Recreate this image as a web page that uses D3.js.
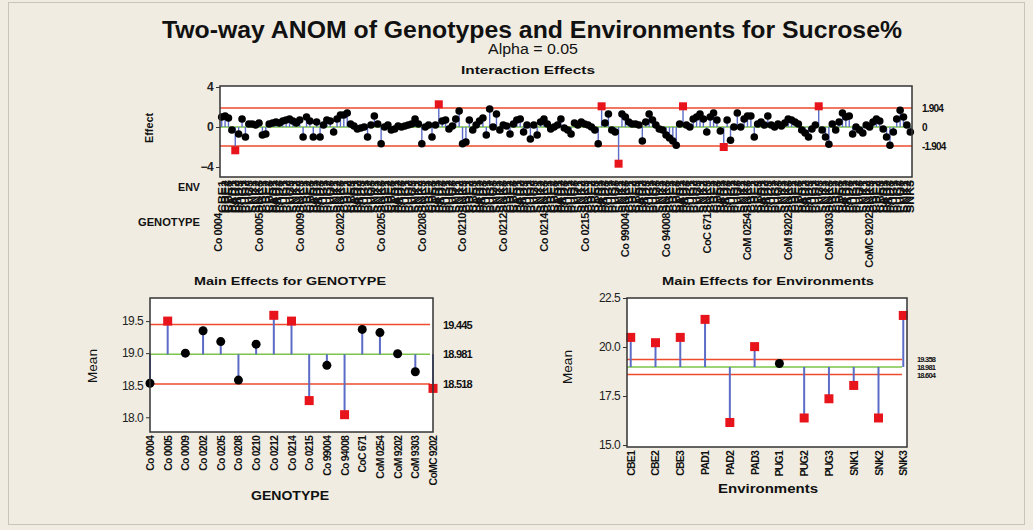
<!DOCTYPE html>
<html>
<head>
<meta charset="utf-8">
<script src="https://cdn.jsdelivr.net/npm/d3@7/dist/d3.min.js"></script>
<style>
  body { margin: 0; background: #f0ece1; }
  svg { display: block; font-family: "Liberation Sans", Arial, sans-serif; }
</style>
</head>
<body>
<div id="chart"></div>
<script>
// ---- data ----
var genotypes = ["Co 0004", "Co 0005", "Co 0009", "Co 0202", "Co 0205", "Co 0208", "Co 0210", "Co 0212",
                 "Co 0214", "Co 0215", "Co 99004", "Co 94008", "CoC 671", "CoM 0254", "CoM 9202", "CoM 9303", "CoMC 9202"];
var environments = ["CBE1", "CBE2", "CBE3", "PAD1", "PAD2", "PAD3", "PUG1", "PUG2", "PUG3", "SNK1", "SNK2", "SNK3"];

var genotypeMeans = [18.53, 19.50, 19.00, 19.35, 19.18, 18.58, 19.14, 19.59, 19.50,
                     18.26, 18.81, 18.04, 19.37, 19.32, 18.99, 18.71, 18.45];
var envMeans = [20.49, 20.22, 20.49, 21.41, 16.15, 20.02, 19.16, 16.38, 17.36, 18.04, 16.38, 21.61];

// interaction effects, genotype by genotype, 12 environments each
var interaction = [
  1.0, 1.1, 0.9, -0.3, -2.33, -0.7, 0.8, -1.0, 0.3, 0.3, 0.2, 0.4,
  -0.8, -0.7, 0.3, 0.4, 0.5, 0.4, 0.6, 0.7, 0.8, 0.6, 0.4, 0.7,
  -1.0, 1.0, 0.6, -1.0, 0.5, -1.0, 0.2, 0.7, 0.6, -0.5, 0.8, 1.2,
  1.2, 1.4, 0.3, 0.1, -0.2, -0.1, 0.0, -1.0, 0.2, 1.1, 0.3, -1.67,
  0.0, 0.2, -0.3, -0.2, 0.1, 0.0, 0.1, 0.2, 0.3, 0.8, 0.3, -1.67,
  0.0, 0.2, -1.0, 0.2, 2.27, 0.6, 0.7, -0.2, 0.1, 0.8, 1.6, -1.67,
  -1.5, 0.7, -0.3, 0.2, 0.6, 0.9, -0.8, 1.8, 0.0, 1.3, -0.3, 0.2,
  0.1, -0.7, 0.3, 0.7, 0.8, -0.5, 0.2, -1.2, 0.2, -0.8, 0.5, 0.8,
  0.3, -0.2, 0.0, 0.2, 0.8, -0.1, -0.3, -0.7, 0.4, 0.2, 0.5, 0.3,
  0.2, 0.0, -0.3, -1.67, 2.07, 0.4, 1.3, -0.3, -0.5, -3.67, 1.3, 1.0,
  0.5, 0.3, 0.3, 0.2, -1.4, 0.5, 1.3, 0.7, 0.2, -0.2, -0.3, -0.8,
  -1.1, -1.4, -1.83, 0.3, 2.07, 0.2, 0.0, 0.8, 1.0, 1.3, 0.8, -0.5,
  1.0, 1.4, 0.7, -0.4, -2.0, 0.7, -1.33, 0.0, 1.4, 0.0, 0.8, 1.1,
  1.1, -1.0, 0.3, 0.5, 0.2, 1.1, 0.2, 0.0, 0.3, 0.1, 0.4, 0.8,
  0.7, 0.5, 0.3, -0.3, -0.6, -1.0, -0.2, 0.2, 2.07, -0.3, -1.0, -1.73,
  0.3, -0.3, 0.5, 1.4, 1.0, 1.1, -0.7, 0.0, -0.3, -0.6, 0.2, 0.0,
  0.5, 0.8, 0.6, -0.2, -1.0, -1.83, -0.5, 0.8, 1.67, 1.0, 0.2, -0.5
];

var interLimits = {center: 0, upper: 1.904, lower: -1.904, labels: ["1.904", "0", "-1.904"]};
var genoLimits = {center: 18.981, upper: 19.445, lower: 18.518, labels: ["19.445", "18.981", "18.518"]};
var envLimits = {center: 18.981, upper: 19.358, lower: 18.604, labels: ["19.358", "18.981", "18.604"]};

var interTicks = [-4, 0, 4];
var genoTicks = [18.0, 18.5, 19.0, 19.5];
var envTicks = [15.0, 17.5, 20.0, 22.5];

// ---- drawing ----
var W = 1033, H = 530;
var svg = d3.select("#chart").append("svg").attr("width", W).attr("height", H);

svg.append("rect").attr("x", 8.5).attr("y", 2.5).attr("width", 1016).attr("height", 522)
  .attr("fill", "#f0ece1").attr("stroke", "#c9c5ba");

var RED = "#ee4a2c", GREEN = "#7cc44a", BLUE = "#5c6cc6", MARK = "#e8141c";

function txt(x, y, s, size, opts) {
  opts = opts || {};
  var t = svg.append("text").attr("x", x).attr("y", y).text(s)
    .attr("font-size", size).attr("fill", "#111")
    .attr("text-anchor", opts.anchor || "middle");
  if (opts.bold) t.attr("font-weight", "bold");
  if (opts.len) t.attr("textLength", opts.len).attr("lengthAdjust", "spacingAndGlyphs");
  if (opts.rot) t.attr("transform", "rotate(" + opts.rot + "," + x + "," + y + ")");
  if (opts.ls) t.attr("letter-spacing", opts.ls);
  return t;
}

// one ANOM panel
function anom(p) {
  var x = d3.scalePoint().domain(d3.range(p.values.length)).range([p.x0, p.x1]).padding(p.pad);
  var y = d3.scaleLinear().domain(p.domain).range([p.y1, p.y0]);
  var g = svg.append("g");

  g.append("rect").attr("x", p.x0).attr("y", p.y0).attr("width", p.x1 - p.x0).attr("height", p.y1 - p.y0)
    .attr("fill", "#fff");

  var yAxis = d3.axisLeft(y).tickValues(p.ticks).tickFormat(p.fmt).tickSize(4).tickPadding(3);
  var ax = g.append("g").attr("transform", "translate(" + p.x0 + ",0)").call(yAxis);
  ax.select(".domain").remove();
  ax.selectAll("line").attr("stroke", "#333");
  ax.selectAll("text").attr("font-size", p.tickSize).attr("font-family", "Liberation Sans, Arial")
    .attr("font-weight", p.tickBold ? "bold" : "normal").attr("fill", "#222").attr("letter-spacing", -0.6);

  var lx0 = p.x0, lx1 = p.lineEnd || p.x1;
  [[p.lim.upper, RED], [p.lim.lower, RED], [p.lim.center, GREEN]].forEach(function (d) {
    g.append("line").attr("x1", lx0).attr("x2", lx1).attr("y1", y(d[0])).attr("y2", y(d[0]))
      .attr("stroke", d[1]).attr("stroke-width", 1.5);
  });

  g.selectAll("line.stem").data(p.values).enter().append("line").attr("class", "stem")
    .attr("x1", function (d, i) { return x(i); }).attr("x2", function (d, i) { return x(i); })
    .attr("y1", y(p.lim.center)).attr("y2", function (d) { return y(d); })
    .attr("stroke", BLUE).attr("stroke-width", p.stemW);

  var out = function (d) { return d > p.lim.upper || d < p.lim.lower; };
  p.values.forEach(function (d, i) {
    if (out(d)) {
      g.append("rect").attr("x", x(i) - p.sq / 2).attr("y", y(d) - p.sq / 2)
        .attr("width", p.sq).attr("height", p.sq).attr("fill", MARK);
    } else {
      g.append("circle").attr("cx", x(i)).attr("cy", y(d)).attr("r", p.r).attr("fill", "#000");
    }
  });

  g.append("rect").attr("x", p.x0).attr("y", p.y0).attr("width", p.x1 - p.x0).attr("height", p.y1 - p.y0)
    .attr("fill", "none").attr("stroke", "#333").attr("stroke-width", 1.5);

  // limit labels on the right
  var ly = p.labelY || [y(p.lim.upper), y(p.lim.center), y(p.lim.lower)];
  p.lim.labels.forEach(function (s, i) {
    txt(p.labelX, ly[i] + p.labelSize * 0.36, s, p.labelSize, {anchor: "start", bold: true, ls: -0.8});
  });
  return x;
}

// titles
txt(532, 38, "Two-way ANOM of Genotypes and Environments for Sucrose%", 24, {bold: true, len: 740});
txt(533, 54, "Alpha = 0.05", 14, {len: 90});
txt(528, 74, "Interaction Effects", 11, {bold: true, len: 134});

// interaction panel
var xi = anom({
  values: interaction, x0: 220, x1: 912, y0: 86, y1: 177, pad: 0.5,
  domain: [-5.0, 4.1], ticks: interTicks, fmt: d3.format("d"), tickSize: 12, tickBold: true,
  lim: interLimits, stemW: 1.4, r: 3.8, sq: 8, labelX: 922, labelSize: 10
});
txt(153, 128, "Effect", 11, {bold: true, rot: -90, len: 30});
txt(200, 191, "ENV", 10, {bold: true, anchor: "end", len: 22});
txt(200, 226, "GENOTYPE", 10, {bold: true, anchor: "end", len: 62});

interaction.forEach(function (d, i) {
  txt(xi(i) + 4, 180, environments[i % environments.length], 10.5, {bold: true, anchor: "end", rot: -90, len: 33});
});
genotypes.forEach(function (gname, gi) {
  txt(xi(gi * environments.length) + 0.5, 213, gname, 11, {bold: true, anchor: "end", rot: -90, ls: -0.5});
});

// genotype main effects
var xg = anom({
  values: genotypeMeans, x0: 150, x1: 433, y0: 298, y1: 432, pad: 0,
  domain: [17.77, 19.86], ticks: genoTicks, fmt: d3.format(".1f"), tickSize: 12, tickBold: false,
  lim: genoLimits, stemW: 2, r: 4.5, sq: 9, labelX: 443, labelSize: 11, lineEnd: 430
});
txt(290, 285, "Main Effects for GENOTYPE", 11, {bold: true, len: 192});
txt(97, 366, "Mean", 13, {rot: -90, len: 34});
txt(290, 500, "GENOTYPE", 12, {bold: true, len: 78});
genotypeMeans.forEach(function (d, i) {
  txt(xg(i) + 4, 436, genotypes[i], 10.5, {bold: true, anchor: "end", rot: -90, ls: -0.8});
});

// environment main effects
var xe = anom({
  values: envMeans, x0: 627, x1: 907, y0: 298, y1: 447, pad: 0.15,
  domain: [14.9, 22.5], ticks: envTicks, fmt: d3.format(".1f"), tickSize: 12, tickBold: false,
  lim: envLimits, stemW: 2, r: 4.5, sq: 9, labelX: 917, labelSize: 7.5, lineEnd: 902,
  labelY: [359, 367, 375]
});
txt(768, 285, "Main Effects for Environments", 11, {bold: true, len: 212});
txt(572, 367, "Mean", 13, {rot: -90, len: 34});
txt(768, 493, "Environments", 12, {bold: true, len: 100});
envMeans.forEach(function (d, i) {
  txt(xe(i) + 4, 451, environments[i], 10.5, {bold: true, anchor: "end", rot: -90, ls: -0.8});
});
</script>
</body>
</html>
